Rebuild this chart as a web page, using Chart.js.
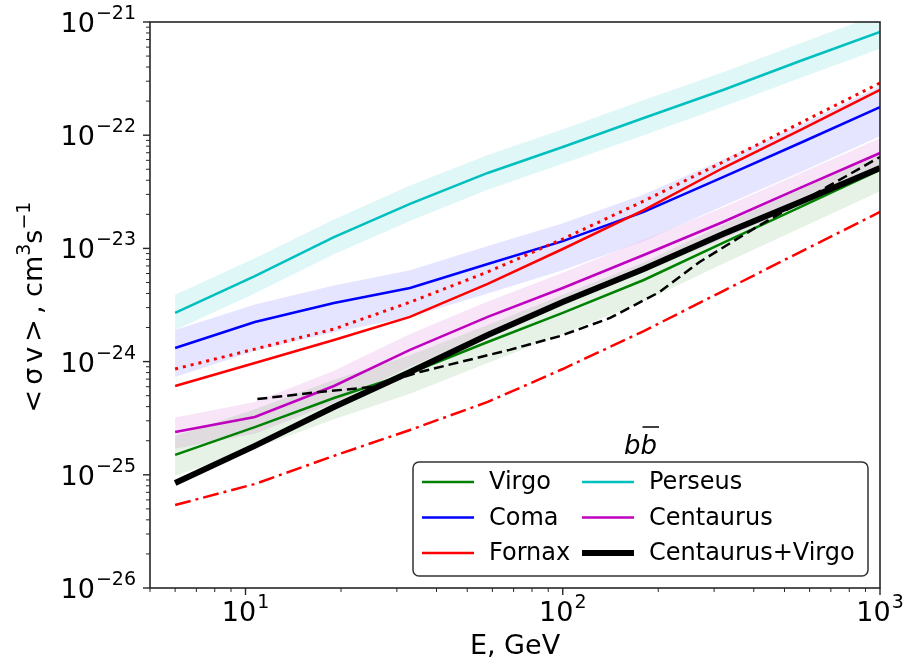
<!DOCTYPE html>
<html>
<head>
<meta charset="utf-8">
<title>sigma v limits, b bbar</title>
<script src="https://cdn.jsdelivr.net/npm/chart.js@4.4.1/dist/chart.umd.min.js"></script>
<style>
  html, body { margin: 0; padding: 0; background: #fff; }
  #wrap { width: 906px; height: 667px; }
</style>
</head>
<body>
<div id="wrap"><canvas id="sigmaChart" width="906" height="667"></canvas></div>
<script>
'use strict';

// ------------------------------------------------------- //
// Data (E in GeV, <sigma v> in cm^3 s^-1)
// ------------------------------------------------------- //
const energy = [6, 10.7, 19, 33, 58, 100, 180, 320, 560, 1000];

const virgo   = [1.50e-25, 2.64e-25, 4.77e-25, 7.93e-25, 1.49e-24, 2.69e-24, 5.26e-24, 1.12e-23, 2.32e-23, 4.93e-23];
const virgoHi = [2.2e-25, 3.8e-25, 6.9e-25, 1.14e-24, 2.1e-24, 3.9e-24, 7.5e-24, 1.62e-23, 3.35e-23, 7.1e-23];
const virgoLo = [9.8e-26, 1.72e-25, 3.1e-25, 5.2e-25, 9.7e-25, 1.75e-24, 3.4e-24, 7.3e-24, 1.51e-23, 3.2e-23];

const coma   = [1.32e-24, 2.24e-24, 3.29e-24, 4.47e-24, 7.28e-24, 1.16e-23, 2.10e-23, 4.27e-23, 8.53e-23, 1.77e-22];
const comaHi = [1.9e-24, 3.2e-24, 4.7e-24, 6.4e-24, 1.05e-23, 1.67e-23, 3.0e-23, 6.1e-23, 1.23e-22, 2.7e-22];
const comaLo = [7.3e-25, 1.24e-24, 1.82e-24, 2.48e-24, 4.0e-24, 6.4e-24, 1.16e-23, 2.37e-23, 4.7e-23, 9.8e-23];

const fornax    = [6.09e-25, 9.72e-25, 1.55e-24, 2.48e-24, 4.85e-24, 9.88e-24, 2.18e-23, 5.13e-23, 1.11e-22, 2.51e-22];
const fornaxAlt = [8.60e-25, 1.29e-24, 1.94e-24, 3.35e-24, 6.19e-24, 1.21e-23, 2.62e-23, 5.80e-23, 1.28e-22, 2.89e-22];

const perseus   = [2.69e-24, 5.70e-24, 1.26e-23, 2.47e-23, 4.64e-23, 7.87e-23, 1.42e-22, 2.51e-22, 4.52e-22, 8.16e-22];
const perseusHi = [3.9e-24, 8.2e-24, 1.8e-23, 3.6e-23, 6.7e-23, 1.13e-22, 2.05e-22, 3.6e-22, 6.5e-22, 1.18e-21];
const perseusLo = [1.9e-24, 4.0e-24, 8.9e-24, 1.75e-23, 3.3e-23, 5.6e-23, 1.0e-22, 1.78e-22, 3.2e-22, 5.8e-22];

const centaurus   = [2.39e-25, 3.24e-25, 6.09e-25, 1.27e-24, 2.48e-24, 4.47e-24, 8.74e-24, 1.71e-23, 3.42e-23, 6.96e-23];
const centaurusHi = [3.2e-25, 4.4e-25, 8.3e-25, 1.75e-24, 3.4e-24, 6.1e-24, 1.19e-23, 2.3e-23, 4.6e-23, 9.4e-23];
const centaurusLo = [1.7e-25, 2.3e-25, 4.3e-25, 9.0e-25, 1.76e-24, 3.2e-24, 6.2e-24, 1.21e-23, 2.4e-23, 4.9e-23];

const centVirgo = [8.46e-26, 1.80e-25, 3.97e-25, 8.09e-25, 1.72e-24, 3.36e-24, 6.58e-24, 1.34e-23, 2.57e-23, 5.13e-23];

const dashedE    = [10.9, 17.1, 25.2, 35.4, 68, 98, 141, 202, 270, 409, 681, 1000];
const dashedVals = [4.67e-25, 5.39e-25, 5.97e-25, 8.09e-25, 1.27e-24, 1.68e-24, 2.43e-24, 4.12e-24, 7.59e-24, 1.55e-23, 3.49e-23, 6.42e-23];

const dashDot = [5.41e-26, 8.29e-26, 1.47e-25, 2.49e-25, 4.40e-25, 8.60e-25, 1.86e-24, 4.20e-24, 9.29e-24, 2.10e-23];

// tick labels (powers of ten)
const xTickExps = [1, 2, 3];
const yTickExps = [-26, -25, -24, -23, -22, -21];

// legend layout (matplotlib ncol=2, column major)
const legendCols = [['Virgo', 'Coma', 'Fornax'], ['Perseus', 'Centaurus', 'Centaurus+Virgo']];

// ------------------------------------------------------- //
// Datasets
// ------------------------------------------------------- //
const FONT = '"DejaVu Sans", sans-serif';
const pts = (xs, ys) => xs.map((x, i) => ({x: x, y: ys[i]}));

const datasets = [];
function addLine(label, xs, ys, color, width, dash) {
    datasets.push({
        label: label,
        data: pts(xs, ys),
        borderColor: color,
        backgroundColor: color,
        borderWidth: width,
        borderDash: dash || [],
        pointRadius: 0,
        fill: false,
        tension: 0
    });
}
function addBand(xs, lo, hi, fillColor) {
    datasets.push({label: '_lo', data: pts(xs, lo), borderColor: 'rgba(0,0,0,0)', borderWidth: 0, pointRadius: 0, fill: false});
    const loIndex = datasets.length - 1;
    datasets.push({label: '_hi', data: pts(xs, hi), borderColor: 'rgba(0,0,0,0)', borderWidth: 0, pointRadius: 0,
                   backgroundColor: fillColor, fill: loIndex});
}

// lines first (drawn on top), bands last
addLine('_dashed', dashedE, dashedVals, '#000000', 2.5, [10, 5]);
addLine('Centaurus+Virgo', energy, centVirgo, '#000000', 6);
addLine('_dashdot', energy, dashDot, '#ff0000', 2.5, [16, 5, 3, 5]);
addLine('_fornaxDotted', energy, fornaxAlt, '#ff0000', 3, [3, 5]);
addLine('Virgo', energy, virgo, '#008000', 2.5);
addLine('Centaurus', energy, centaurus, '#bf00bf', 2.5);
addLine('Fornax', energy, fornax, '#ff0000', 2.5);
addLine('Coma', energy, coma, '#0000ff', 2.5);
addLine('Perseus', energy, perseus, '#00bfbf', 2.5);

addBand(energy, virgoLo, virgoHi, 'rgba(0,128,0,0.10)');
addBand(energy, centaurusLo, centaurusHi, 'rgba(191,0,191,0.10)');
addBand(energy, comaLo, comaHi, 'rgba(0,0,255,0.10)');
addBand(energy, perseusLo, perseusHi, 'rgba(0,191,191,0.12)');

// ------------------------------------------------------- //
// Helpers: 10^n labels, ticks, frame, axis title, legend
// ------------------------------------------------------- //
function supText(n) {
    return (n < 0 ? '\u2212' : '') + Math.abs(n);
}

function drawPower(ctx, exp, x, baseY, align) {
    ctx.font = '27px ' + FONT;
    const wb = ctx.measureText('10').width;
    ctx.font = '19px ' + FONT;
    const we = ctx.measureText(supText(exp)).width;
    const total = wb + we + 1;
    let start = align === 'right' ? x - total : x - total / 2;
    ctx.textAlign = 'left';
    ctx.textBaseline = 'alphabetic';
    ctx.font = '27px ' + FONT;
    ctx.fillText('10', start, baseY);
    ctx.font = '19px ' + FONT;
    ctx.fillText(supText(exp), start + wb + 1, baseY - 13);
}

// y title: <σv>, cm^3 s^-1 (rotated, with real superscripts)
function drawYTitle(ctx, cx, cy) {
    const parts = [
        {t: '<σv>', size: 27, rise: 0, gap: 5},
        {t: ', cm', size: 27, rise: 0, gap: 0},
        {t: '3', size: 19, rise: 12, gap: 0},
        {t: 's', size: 27, rise: 0, gap: 0},
        {t: '\u22121', size: 19, rise: 12, gap: 0}
    ];
    let total = 0;
    parts.forEach(function (p) {
        ctx.font = p.size + 'px ' + FONT;
        ctx.letterSpacing = p.gap + 'px';
        p.w = ctx.measureText(p.t).width;
        total += p.w;
    });
    ctx.save();
    ctx.translate(cx, cy);
    ctx.rotate(-Math.PI / 2);
    ctx.textAlign = 'left';
    ctx.textBaseline = 'alphabetic';
    let x = -total / 2;
    parts.forEach(function (p) {
        ctx.font = p.size + 'px ' + FONT;
        ctx.letterSpacing = p.gap + 'px';
        ctx.fillText(p.t, x, -p.rise);
        x += p.w;
    });
    ctx.letterSpacing = '0px';
    ctx.restore();
}

const axisDecor = {
    id: 'axisDecor',
    afterDraw(chart) {
        const ctx = chart.ctx;
        const a = chart.chartArea;
        const xs = chart.scales.x, ys = chart.scales.y;
        ctx.save();
        ctx.strokeStyle = '#262626';
        ctx.fillStyle = '#000';

        // y ticks (major + minor)
        for (let e = yTickExps[0]; e <= yTickExps[yTickExps.length - 1]; e++) {
            for (let m = 1; m <= 9; m++) {
                const v = m * Math.pow(10, e);
                if (v < ys.min * 0.999 || v > ys.max * 1.001) continue;
                const py = ys.getPixelForValue(v);
                ctx.lineWidth = m === 1 ? 1.4 : 1;
                ctx.beginPath();
                ctx.moveTo(a.left - (m === 1 ? 7 : 4), py);
                ctx.lineTo(a.left, py);
                ctx.stroke();
            }
        }
        // x ticks
        for (let e = 0; e <= xTickExps[xTickExps.length - 1]; e++) {
            for (let m = 1; m <= 9; m++) {
                const v = m * Math.pow(10, e);
                if (v < xs.min * 0.999 || v > xs.max * 1.001) continue;
                const px = xs.getPixelForValue(v);
                ctx.lineWidth = m === 1 ? 1.4 : 1;
                ctx.beginPath();
                ctx.moveTo(px, a.bottom);
                ctx.lineTo(px, a.bottom + (m === 1 ? 7 : 4));
                ctx.stroke();
            }
        }

        // frame
        ctx.lineWidth = 1.6;
        ctx.strokeRect(a.left, a.top, a.right - a.left, a.bottom - a.top);

        // tick labels
        yTickExps.forEach(function (e) {
            drawPower(ctx, e, a.left - 14, ys.getPixelForValue(Math.pow(10, e)) + 10, 'right');
        });
        xTickExps.forEach(function (e) {
            drawPower(ctx, e, xs.getPixelForValue(Math.pow(10, e)), a.bottom + 33, 'center');
        });

        drawYTitle(ctx, 42, (a.top + a.bottom) / 2 + 2);
        ctx.restore();
    }
};

const legendBox = {
    id: 'legendBox',
    afterDraw(chart) {
        const ctx = chart.ctx;
        const a = chart.chartArea;
        const w = 455, h = 114;
        const bx = a.right - 12 - w, by = a.bottom - 12 - h;
        ctx.save();
        ctx.beginPath();
        ctx.roundRect(bx, by, w, h, 6);
        ctx.fillStyle = 'rgba(255,255,255,0.85)';
        ctx.fill();
        ctx.lineWidth = 1.5;
        ctx.strokeStyle = '#333';
        ctx.stroke();

        ctx.font = '24px ' + FONT;
        ctx.textBaseline = 'middle';
        ctx.textAlign = 'left';
        legendCols.forEach(function (col, c) {
            col.forEach(function (label, r) {
                const ds = chart.data.datasets.find(d => d.label === label);
                const lx = bx + 9 + c * 160;
                const ly = by + 20 + r * 35.5;
                ctx.strokeStyle = ds.borderColor;
                ctx.lineWidth = ds.borderWidth;
                ctx.setLineDash([]);
                ctx.beginPath();
                ctx.moveTo(lx, ly);
                ctx.lineTo(lx + 52, ly);
                ctx.stroke();
                ctx.fillStyle = '#000';
                ctx.fillText(label, lx + 67, ly + 1);
            });
        });

        // legend title: b bbar
        ctx.font = 'italic 26px ' + FONT;
        ctx.textBaseline = 'alphabetic';
        const wb = ctx.measureText('b').width;
        const tx = bx + w / 2 - wb;
        const ty = by - 8;
        ctx.fillText('b', tx, ty);
        ctx.fillText('b', tx + wb, ty);
        ctx.strokeStyle = '#000';
        ctx.lineWidth = 1.5;
        ctx.beginPath();
        ctx.moveTo(tx + wb + 2, ty - 27);
        ctx.lineTo(tx + 2 * wb + 2, ty - 27);
        ctx.stroke();
        ctx.restore();
    }
};

// ------------------------------------------------------- //
// Chart
// ------------------------------------------------------- //
Chart.defaults.font.family = FONT;
Chart.defaults.color = '#000';

const sigmaChart = new Chart(document.getElementById('sigmaChart'), {
    type: 'line',
    data: {datasets: datasets},
    options: {
        responsive: false,
        animation: false,
        layout: {padding: {left: 0, right: 26, top: 22, bottom: 0}},
        plugins: {
            legend: {display: false},
            tooltip: {enabled: false}
        },
        scales: {
            x: {
                type: 'logarithmic',
                min: 5,
                max: 1000,
                grid: {display: false},
                border: {display: false},
                ticks: {display: false},
                title: {display: true, text: 'E, GeV', font: {size: 27}, padding: {top: 0, bottom: 4}},
                afterFit: function (scale) { scale.height = 79; }
            },
            y: {
                type: 'logarithmic',
                min: 1e-26,
                max: 1e-21,
                grid: {display: false},
                border: {display: false},
                ticks: {display: false},
                title: {display: false},
                afterFit: function (scale) { scale.width = 150; }
            }
        }
    },
    plugins: [axisDecor, legendBox]
});
</script>
</body>
</html>
